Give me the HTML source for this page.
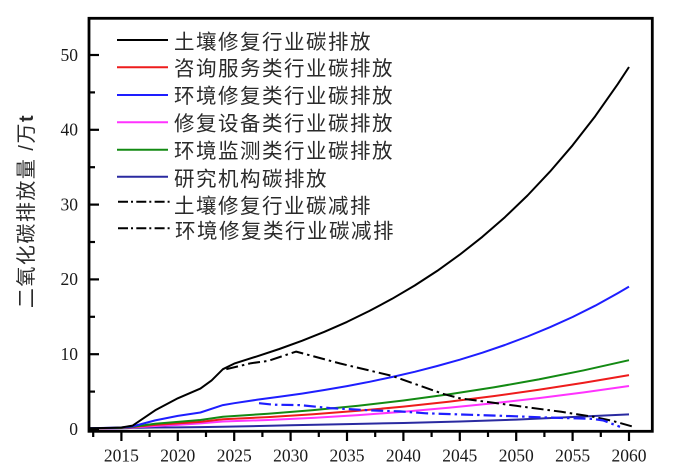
<!DOCTYPE html>
<html><head><meta charset="utf-8"><style>
html,body{margin:0;padding:0;background:#fff;}
svg{display:block;}
</style></head><body>
<svg width="695" height="472" viewBox="0 0 695 472" xmlns="http://www.w3.org/2000/svg">
<rect width="695" height="472" fill="#fff"/>
<!-- curves -->
<g fill="none" stroke-width="2" stroke-linejoin="round" stroke-linecap="butt">
<polyline stroke="#2a2aa0" points="90,428.6 121.4,428.3 132.7,427.9 155.2,427.5 177.8,427.4 200.4,427.1 222.9,426.8 290.6,425.3 347.0,424.1 403.4,423.0 459.8,421.5 516.2,419.6 572.6,417.0 629,414.4"/>
<polyline stroke="#ff33ff" points="90,428.4 121.4,428.1 132.7,427.5 155.2,426.0 177.8,424.9 200.4,423.4 222.9,421.5 268.0,420.0 313.2,417.9 358.3,415.1 403.4,411.8 448.5,407.8 493.6,403.3 538.8,398.1 583.9,392.4 629,386.0"/>
<polyline stroke="#ee1c1c" points="90,428.3 121.4,427.9 132.7,427.1 155.2,424.9 177.8,423.4 200.4,421.9 222.9,419.3 268.0,417.1 313.2,414.3 358.3,410.8 403.4,406.6 448.5,401.7 493.6,396.1 538.8,389.8 583.9,382.8 629,375.1"/>
<polyline stroke="#138a13" points="90,428.3 121.4,427.9 132.7,426.8 155.2,423.8 177.8,421.9 200.4,420.0 222.9,416.7 268.0,413.7 313.2,410.1 358.3,405.7 403.4,400.5 448.5,394.4 493.6,387.4 538.8,379.4 583.9,370.3 629,360.2"/>
<polyline stroke="#1e1eff" points="90,428.3 121.4,427.5 132.7,426.4 155.2,420.4 177.8,415.9 200.4,412.5 222.9,405.1 234.2,403.2 256.8,399.8 279.3,396.8 301.9,393.6 324.4,390.0 347.0,386.1 369.5,381.8 392.1,377.0 414.7,371.8 437.2,366.0 459.8,359.7 482.4,352.7 504.9,345.0 527.5,336.5 550.0,327.2 572.6,317.0 595.2,305.7 617.7,293.2 629.0,286.6"/>
<polyline stroke="#000" points="90,428.3 110.1,427.9 121.4,427.5 132.7,425.6 155.2,410.3 177.8,398.3 200.4,388.6 211.6,380.4 222.9,369.2 234.2,363.6 256.8,356.4 279.3,349.0 301.9,340.8 324.4,331.8 347.0,321.9 369.5,310.9 392.1,298.8 414.7,285.5 437.2,270.9 459.8,254.6 482.4,236.8 504.9,217.2 527.5,195.5 550.0,171.6 572.6,145.3 595.2,116.2 617.7,84.2 629.0,67.0"/>
<polyline stroke="#000" stroke-dasharray="12 4 2.5 4" points="226.3,369.2 251.1,363.2 268.0,360.9 296.2,351.6 340.2,363.5 392.1,375.9 442.9,393.8 459.8,398.3 516.2,405.8 561.3,411.8 592.9,416.7 612.1,420.8 633.5,426.8"/>
<polyline stroke="#1e1eff" stroke-width="2.2" stroke-dasharray="12 4 2.5 4" points="259.0,403.2 273.7,404.7 299.6,405.1 330.1,408.1 369.6,410.3 400.0,411.4 426.0,413.3 471.1,414.8 516.2,416.3 543.3,417.4 592.9,418.9 603.0,420.4 620.0,426.8"/>
</g>
<!-- frame -->
<rect x="89" y="18.3" width="563.3" height="413" fill="none" stroke="#000" stroke-width="2.8"/>
<!-- y ticks (inward) -->
<g stroke="#000" stroke-width="2.2">
<line x1="89" y1="429" x2="99" y2="429"/>
<line x1="89" y1="391.6" x2="95" y2="391.6"/>
<line x1="89" y1="354.2" x2="99" y2="354.2"/>
<line x1="89" y1="316.8" x2="95" y2="316.8"/>
<line x1="89" y1="279.4" x2="99" y2="279.4"/>
<line x1="89" y1="242" x2="95" y2="242"/>
<line x1="89" y1="204.6" x2="99" y2="204.6"/>
<line x1="89" y1="167.2" x2="95" y2="167.2"/>
<line x1="89" y1="129.8" x2="99" y2="129.8"/>
<line x1="89" y1="92.4" x2="95" y2="92.4"/>
<line x1="89" y1="55" x2="99" y2="55"/>
</g>
<!-- x ticks (outward) -->
<g stroke="#000" stroke-width="2.2">
<line x1="93.2" y1="431" x2="93.2" y2="437"/>
<line x1="121.4" y1="431" x2="121.4" y2="441"/>
<line x1="149.6" y1="431" x2="149.6" y2="437"/>
<line x1="177.8" y1="431" x2="177.8" y2="441"/>
<line x1="206.0" y1="431" x2="206.0" y2="437"/>
<line x1="234.2" y1="431" x2="234.2" y2="441"/>
<line x1="262.4" y1="431" x2="262.4" y2="437"/>
<line x1="290.6" y1="431" x2="290.6" y2="441"/>
<line x1="318.8" y1="431" x2="318.8" y2="437"/>
<line x1="347.0" y1="431" x2="347.0" y2="441"/>
<line x1="375.2" y1="431" x2="375.2" y2="437"/>
<line x1="403.4" y1="431" x2="403.4" y2="441"/>
<line x1="431.6" y1="431" x2="431.6" y2="437"/>
<line x1="459.8" y1="431" x2="459.8" y2="441"/>
<line x1="488.0" y1="431" x2="488.0" y2="437"/>
<line x1="516.2" y1="431" x2="516.2" y2="441"/>
<line x1="544.4" y1="431" x2="544.4" y2="437"/>
<line x1="572.6" y1="431" x2="572.6" y2="441"/>
<line x1="600.8" y1="431" x2="600.8" y2="437"/>
<line x1="629.0" y1="431" x2="629.0" y2="441"/>
</g>
<!-- y tick labels -->
<g font-family="Liberation Serif, serif" font-size="17.5" fill="#1a1a1a" text-anchor="end">
<text x="78" y="434.8" font-family="Liberation Serif, serif">0</text>
<text x="78" y="360" font-family="Liberation Serif, serif">10</text>
<text x="78" y="285.2" font-family="Liberation Serif, serif">20</text>
<text x="78" y="210.4" font-family="Liberation Serif, serif">30</text>
<text x="78" y="135.6" font-family="Liberation Serif, serif">40</text>
<text x="78" y="60.8" font-family="Liberation Serif, serif">50</text>
</g>
<!-- x tick labels -->
<g font-family="Liberation Serif, serif" font-size="17.5" fill="#1a1a1a" text-anchor="middle">
<text x="121.4" y="461.5" font-family="Liberation Serif, serif">2015</text>
<text x="177.8" y="461.5" font-family="Liberation Serif, serif">2020</text>
<text x="234.2" y="461.5" font-family="Liberation Serif, serif">2025</text>
<text x="290.6" y="461.5" font-family="Liberation Serif, serif">2030</text>
<text x="347.0" y="461.5" font-family="Liberation Serif, serif">2035</text>
<text x="403.4" y="461.5" font-family="Liberation Serif, serif">2040</text>
<text x="459.8" y="461.5" font-family="Liberation Serif, serif">2045</text>
<text x="516.2" y="461.5" font-family="Liberation Serif, serif">2050</text>
<text x="572.6" y="461.5" font-family="Liberation Serif, serif">2055</text>
<text x="629.0" y="461.5" font-family="Liberation Serif, serif">2060</text>
</g>
<!-- y axis title -->
<text transform="translate(33,211) rotate(-90)" text-anchor="middle" style="font-family:'Liberation Sans','Noto Sans CJK SC',sans-serif;font-size:20px;letter-spacing:1.5px;fill:#2a2a2a;">二氧化碳排放量 /万<tspan style="font-weight:bold">t</tspan></text>
<!-- legend -->
<g fill="none" stroke-width="2">
<line x1="117" y1="40" x2="168" y2="40" stroke="#000"/>
<line x1="117" y1="67.3" x2="168" y2="67.3" stroke="#ee1c1c"/>
<line x1="117" y1="95" x2="168" y2="95" stroke="#1e1eff"/>
<line x1="117" y1="122.3" x2="168" y2="122.3" stroke="#ff33ff"/>
<line x1="117" y1="149.7" x2="168" y2="149.7" stroke="#138a13"/>
<line x1="117" y1="176.7" x2="168" y2="176.7" stroke="#2a2aa0"/>
<line x1="118" y1="201.7" x2="170" y2="201.7" stroke="#000" stroke-dasharray="10 3 2 3.3"/>
<line x1="118" y1="228.3" x2="170" y2="228.3" stroke="#000" stroke-dasharray="10 3 2 3.3"/>
</g>
<g style="font-family:'Liberation Sans','Noto Sans CJK SC',sans-serif;font-size:20.5px;letter-spacing:1.5px;fill:#2a2a2a;">
<text x="174" y="48.8">土壤修复行业碳排放</text>
<text x="174" y="75.3">咨询服务类行业碳排放</text>
<text x="174" y="102.8">环境修复类行业碳排放</text>
<text x="174" y="130.3">修复设备类行业碳排放</text>
<text x="174" y="157.8">环境监测类行业碳排放</text>
<text x="174" y="185.8">研究机构碳排放</text>
<text x="174" y="212.8">土壤修复行业碳减排</text>
<text x="175" y="237.8">环境修复类行业碳减排</text>
</g>
</svg>
</body></html>
